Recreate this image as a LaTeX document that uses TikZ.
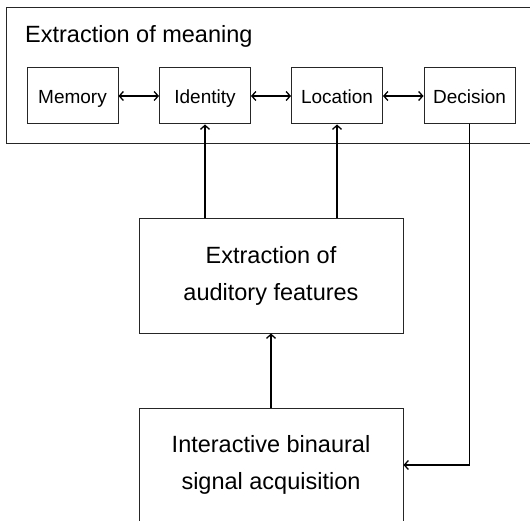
\documentclass[tikz,border=0pt]{standalone}
\usepackage{fontspec}
\setmainfont{Liberation Sans}
\usepackage{tikz}
\usetikzlibrary{arrows.meta}

\begin{document}
\begin{tikzpicture}[x=1pt,y=-1pt,
  box/.style={draw=black!85,line width=1pt,inner sep=0pt},
  small/.style={box,minimum width=91pt,minimum height=56pt,text height=16.5pt,text depth=1pt,font=\fontsize{19}{23}\selectfont},
  big/.style={box,minimum width=264pt,minimum height=114pt,align=center,font=\fontsize{23.5}{37}\selectfont},
  link/.style={line width=1.8pt,>={Straight Barb[length=4pt,width=9pt,line width=1.3pt]}}]
\useasboundingbox (0,0) rectangle (530,521);
\clip (0,0) rectangle (530,521);
% outer block
\node[box,line width=1.1pt,anchor=north west,minimum width=534pt,minimum height=136pt] (meaning) at (6,7) {};
\node[anchor=base west,inner sep=0pt,font=\fontsize{23.5}{28}\selectfont] (title) at (25,43) {Extraction of meaning};
\node[small] (mem) at (72.5,96) {Memory};
\node[small] (iden) at (205,96) {Identity};
\node[small] (loc) at (337,96) {Location};
\node[small] (dec) at (469.5,96) {Decision};
% lower blocks
\node[big] (feat) at (271,276) {Extraction of\\auditory features};
\node[big] (inter) at (271,465) {Interactive binaural\\signal acquisition};
% arrows
\draw[<->][link] (mem) -- (iden);
\draw[<->][link] (iden) -- (loc);
\draw[<->][link] (loc) -- (dec);
\draw[->][link] (iden.south |- feat.north) -- (iden.south);
\draw[->][link] (loc.south |- feat.north) -- (loc.south);
\draw[->][link] (inter) -- (feat);
\draw[->][link] (dec.south) |- (inter.east);
\end{tikzpicture}
\end{document}
